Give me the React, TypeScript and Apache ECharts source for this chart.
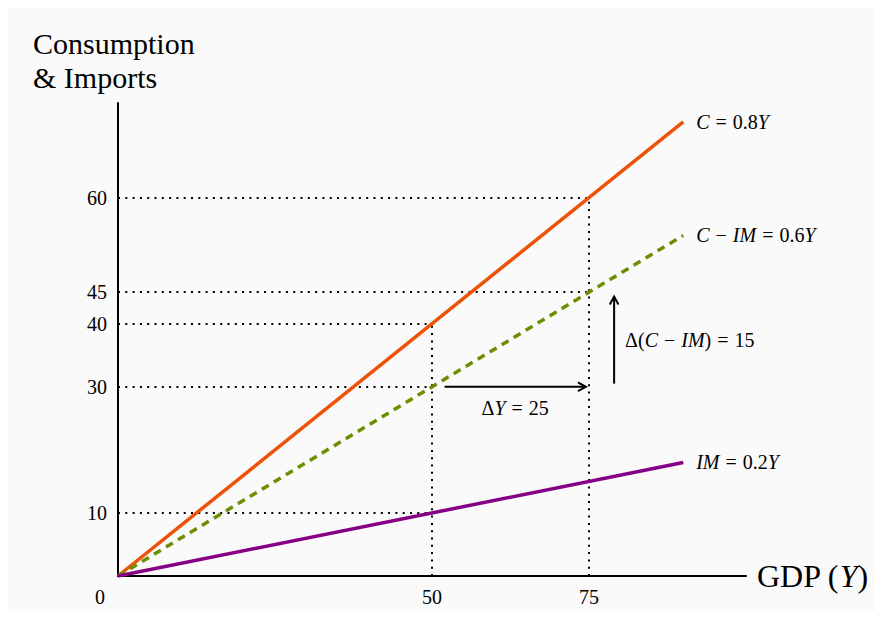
import React, { useEffect, useRef } from "react";
import * as echarts from "echarts";

// ---- data ----
const gdpRange = [0, 90];
const consumption = [0, 72]; // C = 0.8Y
const netConsumption = [0, 54]; // C - IM = 0.6Y
const imports = [0, 18]; // IM = 0.2Y
const xTickValues = [0, 50, 75];
const yTickValues = [10, 30, 40, 45, 60];
const guidePoints: number[][] = [
  [50, 40],
  [50, 30],
  [50, 10],
  [75, 60],
  [75, 45],
];
const arrowFrom: number[][] = [
  [52, 30],
  [79, 30.5],
];
const arrowTo: number[][] = [
  [74.5, 30],
  [79, 44.3],
];
const arrowLabels = ["{g|Δ}{i|Y}{o|=}{g|25}", "{g|Δ(}{i|C}{o|−}{i|IM}{g|)}{o|=}{g|15}"];
const lineLabels = [
  "{i|C}{o|=}{g|0.8}{i|Y}",
  "{i|C}{o|−}{i|IM}{o|=}{g|0.6}{i|Y}",
  "{i|IM}{o|=}{g|0.2}{i|Y}",
];
const yAxisTitle = ["Consumption", "& Imports"];

const FONT = '"Liberation Serif", "Times New Roman", Times, serif';
const ORANGE = "#EE5208";
const GREEN = "#6B8F00";
const PURPLE = "#850085";

const richMath = (size: number) => ({
  i: { fontFamily: FONT, fontStyle: "italic", fontSize: size, color: "#000" },
  g: { fontFamily: FONT, fontSize: size, color: "#000" },
  o: { fontFamily: FONT, fontSize: size, color: "#000", padding: [0, 6, 0, 6] },
});

export default function App() {
  const ref = useRef<HTMLDivElement>(null);
  useEffect(() => {
    if (!ref.current) return;
    const chart = echarts.init(ref.current, undefined, { renderer: "svg" });

    // guide lines
    const guideData: any[] = guidePoints.map((p) => [
      { coord: [0, p[1]] },
      { coord: [p[0], p[1]] },
    ]);
    const xs = Array.from(new Set(guidePoints.map((p) => p[0])));
    xs.forEach((x) => {
      const maxY = Math.max(...guidePoints.filter((p) => p[0] === x).map((p) => p[1]));
      guideData.push([{ coord: [x, 0] }, { coord: [x, maxY] }]);
    });

    const mkLine = (name: string, ys: number[], color: string, type: any, label: string) => ({
      name,
      type: "line",
      data: gdpRange.map((x, i) => [x, ys[i]]),
      symbol: "none",
      lineStyle: { color, width: 3.5, type, cap: "butt" },
      z: 5,
      endLabel: {
        show: true,
        formatter: label,
        distance: 13,
        fontFamily: FONT,
        fontSize: 20,
        color: "#000",
        rich: richMath(20),
      },
    });

    chart.setOption({
      animation: false,
      backgroundColor: "#fafafa",
      textStyle: { fontFamily: FONT },
      grid: { left: 110, right: 129, top: 95, bottom: 35 },
      xAxis: {
        type: "value",
        min: 0,
        max: 100,
        name: "GDP ({i|Y})",
        nameLocation: "end",
        nameGap: 11,
        nameTextStyle: {
          fontFamily: FONT,
          fontSize: 32,
          color: "#000",
          rich: {
            i: { fontFamily: FONT, fontStyle: "italic", fontSize: 32, color: "#000" },
          },
        },
        axisLine: { show: true, lineStyle: { color: "#000", width: 2 } },
        axisTick: { show: false },
        splitLine: { show: false },
        axisLabel: {
          customValues: xTickValues,
          margin: 11,
          fontFamily: FONT,
          fontSize: 20,
          color: "#000",
          formatter: (v: number) => (v === 0 ? "{z|0}" : String(v)),
          rich: { z: { fontFamily: FONT, fontSize: 20, color: "#000", padding: [0, 36, 0, 0] } },
        },
      },
      yAxis: {
        type: "value",
        min: 0,
        max: 75,
        axisLine: { show: true, lineStyle: { color: "#000", width: 2 } },
        axisTick: { show: false },
        splitLine: { show: false },
        axisLabel: {
          customValues: yTickValues,
          margin: 11,
          fontFamily: FONT,
          fontSize: 20,
          color: "#000",
        },
      },
      graphic: [
        {
          type: "text",
          left: 25,
          top: 18,
          style: {
            text: yAxisTitle.join("\n"),
            fontFamily: FONT,
            fontSize: 30,
            lineHeight: 34,
            fill: "#000",
          },
        },
      ],
      series: [
        {
          type: "line",
          data: [],
          silent: true,
          markLine: {
            silent: true,
            symbol: "none",
            label: { show: false },
            lineStyle: { color: "#000", width: 2, type: [2, 5.3], cap: "butt" },
            data: guideData,
          },
        },
        mkLine("C", consumption, ORANGE, "solid", lineLabels[0]),
        mkLine("C-IM", netConsumption, GREEN, [8, 6], lineLabels[1]),
        mkLine("IM", imports, PURPLE, "solid", lineLabels[2]),
        {
          type: "custom",
          data: arrowFrom.map((f, i) => [f[0], f[1], arrowTo[i][0], arrowTo[i][1]]),
          encode: { x: [0, 2], y: [1, 3] },
          z: 6,
          renderItem: (params: any, api: any) => {
            const p1 = api.coord([api.value(0), api.value(1)]);
            const p2 = api.coord([api.value(2), api.value(3)]);
            const ang = Math.atan2(p2[1] - p1[1], p2[0] - p1[0]);
            const h = 9;
            const sp = 0.5;
            const a1 = [p2[0] - h * Math.cos(ang - sp), p2[1] - h * Math.sin(ang - sp)];
            const a2 = [p2[0] - h * Math.cos(ang + sp), p2[1] - h * Math.sin(ang + sp)];
            const horizontal = Math.abs(p2[1] - p1[1]) < 1;
            const label = arrowLabels[params.dataIndex];
            const text = horizontal
              ? {
                  type: "text",
                  x: (p1[0] + p2[0]) / 2,
                  y: p1[1] + 21,
                  style: {
                    text: label,
                    align: "center",
                    verticalAlign: "middle",
                    fontFamily: FONT,
                    fontSize: 20,
                    fill: "#000",
                    rich: richMath(20),
                  },
                }
              : {
                  type: "text",
                  x: p1[0] + 11,
                  y: (p1[1] + p2[1]) / 2,
                  style: {
                    text: label,
                    align: "left",
                    verticalAlign: "middle",
                    fontFamily: FONT,
                    fontSize: 20,
                    fill: "#000",
                    rich: richMath(20),
                  },
                };
            return {
              type: "group",
              children: [
                {
                  type: "line",
                  shape: { x1: p1[0], y1: p1[1], x2: p2[0], y2: p2[1] },
                  style: { stroke: "#000", lineWidth: 2 },
                },
                {
                  type: "polyline",
                  shape: { points: [a1, p2, a2] },
                  style: { stroke: "#000", lineWidth: 2, fill: null },
                },
                text,
              ],
            };
          },
        },
      ],
    });
    return () => chart.dispose();
  }, []);
  return <div ref={ref} style={{ width: 867, height: 603 }} />;
}
